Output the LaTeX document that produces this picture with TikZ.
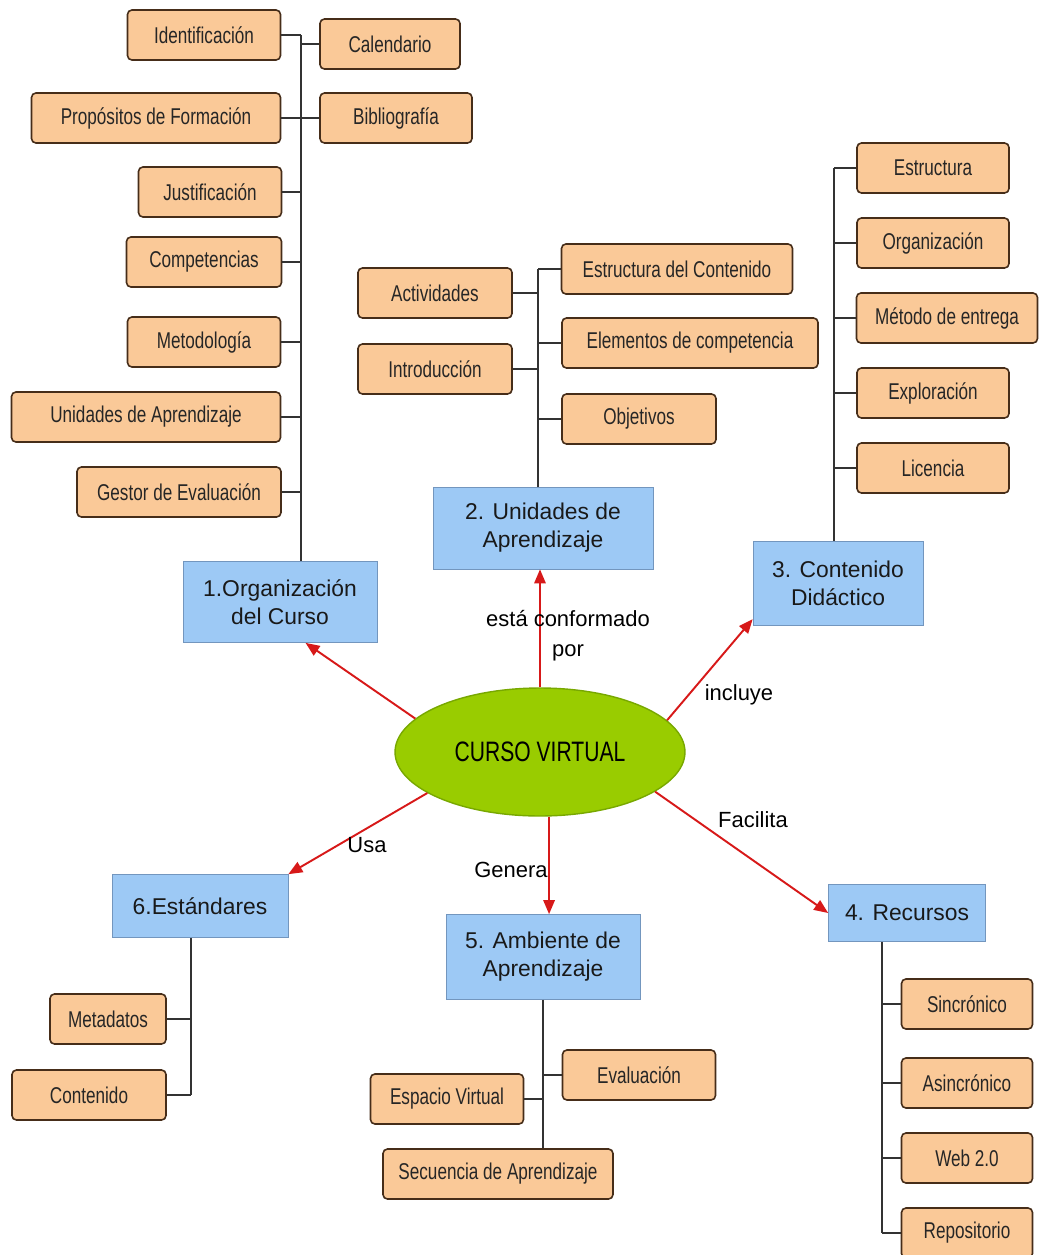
\documentclass[tikz,border=0pt]{standalone}
\usepackage{fontspec}
\setmainfont{Liberation Sans}
\newfontfamily\narrowfont[FakeStretch=0.75]{Liberation Sans}
\usepackage{tikz}
\usetikzlibrary{shapes.geometric,arrows.meta}

\definecolor{leaffill}{RGB}{250,201,152}
\definecolor{leafline}{RGB}{70,45,25}
\definecolor{topicfill}{RGB}{157,201,245}
\definecolor{topicline}{RGB}{115,150,190}
\definecolor{corefill}{RGB}{153,204,0}
\definecolor{coreline}{RGB}{120,168,0}
\definecolor{arrowred}{RGB}{215,25,25}

\begin{document}
\begin{tikzpicture}[x=0.02cm,y=-0.02cm,
    leaf/.style={rectangle, rounded corners=2.5pt, draw=leafline, fill=leaffill, line width=0.9pt,
        minimum width=3.06cm, minimum height=1cm, inner sep=0pt, text=black!85,
        font=\narrowfont\fontsize{13}{15}\selectfont},
    topic/.style={rectangle, draw=topicline, fill=topicfill, line width=0.4pt, inner sep=0pt,
        align=center, text=black!90, font=\fontsize{13}{16}\selectfont},
    core/.style={ellipse, draw=coreline, fill=corefill, line width=0.8pt, inner sep=0pt,
        minimum width=5.8cm, minimum height=2.56cm, font=\narrowfont\fontsize{16}{18}\selectfont},
    twig/.style={draw=black!80, line width=0.8pt},
    arr/.style={draw=arrowred, line width=1.1pt, -{Triangle[length=8pt,width=6.5pt]}},
    lbl/.style={align=center, font=\fontsize{12.5}{17}\selectfont}]
    \useasboundingbox (0,0) rectangle (1040,1255);

    % centro
    \node[core] at (540,752) (cv) {CURSO VIRTUAL};

    % 1. organizacion del curso
    \node[topic, minimum width=3.88cm, minimum height=1.62cm] at (280,602) (org) {1.Organización\\del Curso};
    \node[leaf] at (204,35) (iden) {Identificación};
    \node[leaf, minimum width=2.8cm] at (390,44) (cal) {Calendario};
    \node[leaf, minimum width=4.98cm] at (156,118) (prop) {Propósitos de Formación};
    \node[leaf, minimum width=3.04cm] at (396,118) (bib) {Bibliografía};
    \node[leaf, minimum width=2.86cm] at (210,192) (just) {Justificación};
    \node[leaf, minimum width=3.1cm] at (204,262) (comp) {Competencias};
    \node[leaf] at (204,342) (meto) {Metodología};
    \node[leaf, minimum width=5.38cm] at (146,417) (unid) {Unidades de Aprendizaje};
    \node[leaf, minimum width=4.08cm] at (179,492) (gest) {Gestor de Evaluación};
    \coordinate (t1) at (301,35);
    \draw[twig] (t1) -- (t1 |- org.north);
    \foreach \n in {iden,prop,just,comp,meto,unid,gest}
        \draw[twig] (\n.east) -- (\n.east -| t1);
    \foreach \n in {cal,bib}
        \draw[twig] (\n.west) -- (\n.west -| t1);

    % 2. unidades de aprendizaje
    \node[topic, minimum width=4.4cm, minimum height=1.64cm] at (543,528) (uni) {2. Unidades de\\Aprendizaje};
    \node[leaf, minimum width=3.08cm] at (435,293) (act) {Actividades};
    \node[leaf, minimum width=3.08cm] at (435,369) (intro) {Introducción};
    \node[leaf, minimum width=4.62cm] at (677,269) (estc) {Estructura del Contenido};
    \node[leaf, minimum width=5.12cm] at (690,343) (elem) {Elementos de competencia};
    \node[leaf, minimum width=3.08cm] at (639,419) (obj) {Objetivos};
    \coordinate (t2) at (538,269);
    \draw[twig] (t2) -- (t2 |- uni.north);
    \foreach \n in {act,intro}
        \draw[twig] (\n.east) -- (\n.east -| t2);
    \foreach \n in {estc,elem,obj}
        \draw[twig] (\n.west) -- (\n.west -| t2);

    % 3. contenido didactico
    \node[topic, minimum width=3.4cm, minimum height=1.68cm] at (838,583) (cont) {3. Contenido\\Didáctico};
    \node[leaf, minimum width=3.04cm] at (933,168) (estr) {Estructura};
    \node[leaf, minimum width=3.04cm] at (933,243) (orga) {Organización};
    \node[leaf, minimum width=3.62cm] at (947,318) (entr) {Método de entrega};
    \node[leaf, minimum width=3.04cm] at (933,393) (expl) {Exploración};
    \node[leaf, minimum width=3.04cm] at (933,468) (lic) {Licencia};
    \coordinate (t3) at (834,168);
    \draw[twig] (t3) -- (t3 |- cont.north);
    \foreach \n in {estr,orga,entr,expl,lic}
        \draw[twig] (\n.west) -- (\n.west -| t3);

    % 4. recursos
    \node[topic, minimum width=3.14cm, minimum height=1.14cm] at (907,913) (rec) {4. Recursos};
    \node[leaf, minimum width=2.62cm] at (967,1004) (sinc) {Sincrónico};
    \node[leaf, minimum width=2.62cm] at (967,1083) (asinc) {Asincrónico};
    \node[leaf, minimum width=2.62cm] at (967,1158) (web) {Web 2.0};
    \node[leaf, minimum width=2.62cm] at (967,1233) (repo) {Repositorio};
    \coordinate (t4) at (882,1233);
    \draw[twig] (t4 |- rec.south) -- (t4);
    \foreach \n in {sinc,asinc,web,repo}
        \draw[twig] (\n.west) -- (\n.west -| t4);

    % 5. ambiente de aprendizaje
    \node[topic, minimum width=3.88cm, minimum height=1.7cm] at (543,957) (amb) {5. Ambiente de\\Aprendizaje};
    \node[leaf] at (639,1075) (eval) {Evaluación};
    \node[leaf] at (447,1099) (esp) {Espacio Virtual};
    \node[leaf, minimum width=4.6cm] at (498,1174) (sec) {Secuencia de Aprendizaje};
    \draw[twig] (amb.south) -- (amb.south |- sec.north);
    \draw[twig] (eval.west) -- (eval.west -| amb.south);
    \draw[twig] (esp.east) -- (esp.east -| amb.south);

    % 6. estandares
    \node[topic, minimum width=3.52cm, minimum height=1.26cm] at (200,906) (est) {6.Estándares};
    \node[leaf, minimum width=2.32cm] at (108,1019) (meta) {Metadatos};
    \node[leaf, minimum width=3.08cm] at (89,1095) (contn) {Contenido};
    \coordinate (t6) at (191,1095);
    \draw[twig] (t6 |- est.south) -- (t6);
    \foreach \n in {meta,contn}
        \draw[twig] (\n.east) -- (\n.east -| t6);

    % flechas
    \draw[arr] (cv.165) -- (org.-58);
    \draw[arr] (cv.north) -- (cv.north |- uni.south);
    \draw[arr] (cv.14) -- (cont.203);
    \draw[arr] (cv.200) -- (est.north east);
    \draw[arr] (cv.-82) -- (cv.-82 |- amb.north);
    \draw[arr] (cv.-19) -- (rec.west);

    \node[lbl] at (568,636) (lconf) {está conformado\\por};
    \node[lbl] at (739,695) (linc) {incluye};
    \node[lbl] at (753,820) (lfac) {Facilita};
    \node[lbl] at (367,845) (lusa) {Usa};
    \node[lbl] at (511,870) (lgen) {Genera};
\end{tikzpicture}
\end{document}
